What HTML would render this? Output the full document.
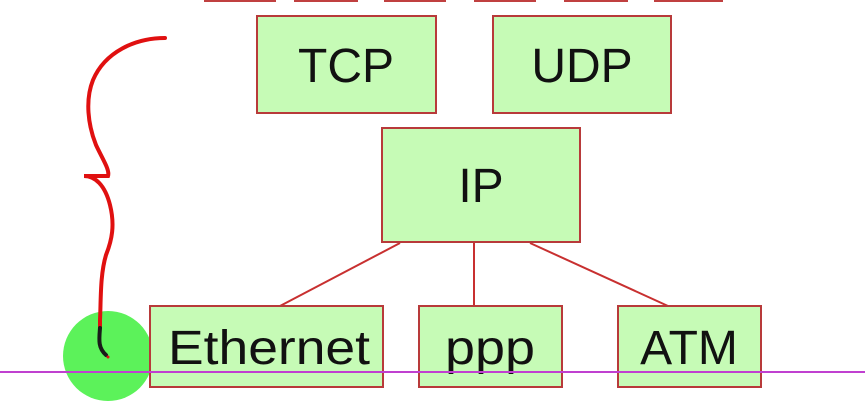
<!DOCTYPE html>
<html><head><meta charset="utf-8"><style>
html,body{margin:0;padding:0;background:#fff;width:865px;height:412px;overflow:hidden}
</style></head><body>
<svg width="865" height="412" xmlns="http://www.w3.org/2000/svg" font-family="Liberation Sans, sans-serif">
<g fill="#c6fbb6" stroke="#c04040" stroke-width="2">
<rect x="205" y="-10" width="70" height="11"/>
<rect x="295" y="-10" width="62" height="11"/>
<rect x="385" y="-10" width="60" height="11"/>
<rect x="475" y="-10" width="60" height="11"/>
<rect x="565" y="-10" width="62" height="11"/>
<rect x="655" y="-10" width="67" height="11"/>
</g>
<g stroke="#c83030" stroke-width="2">
<line x1="400" y1="243" x2="280" y2="306"/>
<line x1="474" y1="243" x2="474" y2="306"/>
<line x1="530" y1="243" x2="668" y2="306"/>
</g>
<circle cx="108" cy="356" r="45" fill="#5cf25a"/>
<g fill="#c6fbb6" stroke="#b83a3a" stroke-width="2">
<rect x="257" y="16" width="179" height="97"/>
<rect x="493" y="16" width="178" height="97"/>
<rect x="382" y="128" width="198" height="114"/>
<rect x="150" y="306" width="233" height="81"/>
<rect x="419" y="306" width="143" height="81"/>
<rect x="618" y="306" width="143" height="81"/>
</g>
<g font-size="48" fill="#111" text-anchor="middle">
<text x="346" y="82">TCP</text>
<text x="582" y="82">UDP</text>
<text x="481" y="202">IP</text>
<text x="269" y="364" textLength="202" lengthAdjust="spacingAndGlyphs">Ethernet</text>
<text x="490" y="364" textLength="90" lengthAdjust="spacingAndGlyphs">ppp</text>
<text x="689" y="364">ATM</text>
</g>
<line x1="0" y1="372" x2="865" y2="372" stroke="#c040d0" stroke-width="2"/>
<path d="M165,38 C135,38 105,52 93,80 C85,100 88,125 96,145 C103,160 110,170 108,176 L84,176 C95,176 105,185 110,205 C115,225 112,240 106,255 C100,275 101,300 100,320 L100,328" fill="none" stroke="#e01010" stroke-width="4" stroke-linecap="round"/>
<path d="M100,328 C99,340 98,348 106,355" fill="none" stroke="#1a1a1a" stroke-width="4" stroke-linecap="round"/>
<circle cx="108" cy="357" r="1.5" fill="#e01010"/>
</svg>
</body></html>
